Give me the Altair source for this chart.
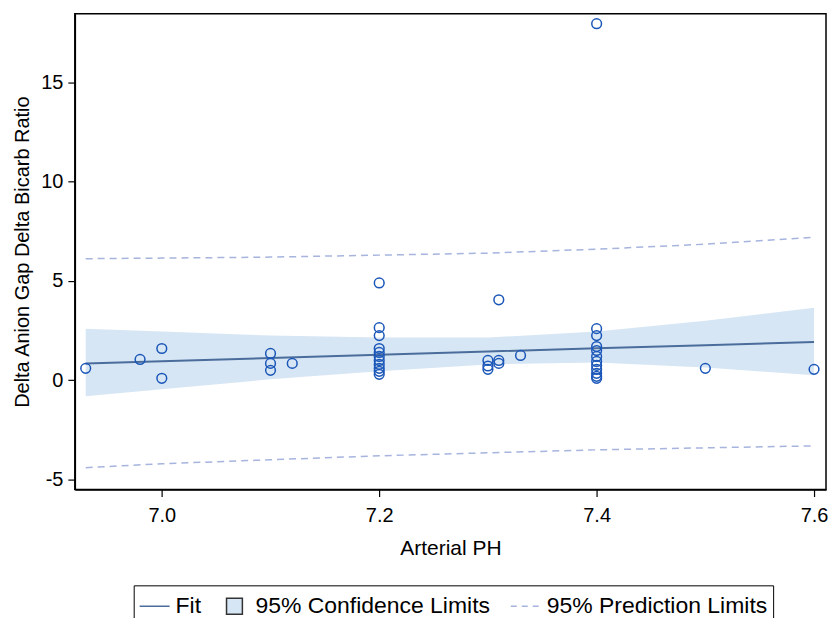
import altair as alt
import pandas as pd

ph = [6.93, 6.98, 7.0, 7.0, 7.1, 7.1, 7.1, 7.12,
      7.2, 7.2, 7.2, 7.2, 7.2, 7.2, 7.2, 7.2, 7.2, 7.2, 7.2,
      7.3, 7.3, 7.3, 7.31, 7.31, 7.31, 7.33,
      7.4, 7.4, 7.4, 7.4, 7.4, 7.4, 7.4, 7.4, 7.4, 7.4, 7.4, 7.4,
      7.5, 7.6]
ratio = [0.6, 1.05, 1.6, 0.1, 1.35, 0.85, 0.5, 0.85,
         4.9, 2.65, 2.25, 1.6, 1.4, 1.2, 1.0, 0.8, 0.6, 0.45, 0.3,
         1.0, 0.72, 0.55, 4.05, 1.0, 0.85, 1.25,
         17.95, 2.6, 2.25, 1.7, 1.5, 1.2, 0.95, 0.75, 0.55, 0.35, 0.2, 0.1,
         0.6, 0.55]

# Fit line and limits read at a few pH values
grid_ph = [6.93, 7.0, 7.1, 7.2, 7.3, 7.4, 7.5, 7.6]
fit = [0.85, 0.96, 1.12, 1.29, 1.45, 1.61, 1.77, 1.93]
cl_lower = [-0.8, -0.45, 0.05, 0.45, 0.8, 0.9, 0.65, 0.25]
cl_upper = [2.6, 2.45, 2.25, 2.15, 2.15, 2.45, 3.0, 3.65]
pl_lower = [-4.4, -4.2, -4.0, -3.8, -3.65, -3.5, -3.4, -3.3]
pl_upper = [6.12, 6.15, 6.2, 6.3, 6.4, 6.6, 6.85, 7.2]

legend_series = ["Fit", "95% Confidence Limits", "95% Prediction Limits"]

x_ticks = [7.0, 7.2, 7.4, 7.6]
y_ticks = [-5, 0, 5, 10, 15]

FONT = "Liberation Sans"
PT_COLOR = "#1a56b8"
FIT_COLOR = "#4a6d9c"
CL_FILL = "#d7e6f4"
PL_COLOR = "#a6b4de"

pts = pd.DataFrame({"ph": ph, "ratio": ratio})
band = pd.DataFrame({"ph": grid_ph, "fit": fit, "cl_lo": cl_lower, "cl_hi": cl_upper,
                     "pl_lo": pl_lower, "pl_hi": pl_upper})
leg = pd.DataFrame({"series": legend_series})

xscale = alt.Scale(domain=[6.92, 7.611], nice=False, zero=False)
yscale = alt.Scale(domain=[-5.5, 18.45], nice=False, zero=False)

x_axis = alt.Axis(values=x_ticks, format=".1f", title="Arterial PH", grid=False,
                  tickSize=7, labelPadding=9, titlePadding=12, titleFontSize=21)
y_axis = alt.Axis(values=y_ticks, title="Delta Anion Gap Delta Bicarb Ratio", grid=False,
                  tickSize=7, labelPadding=5, titlePadding=8, titleFontSize=20,
                  labelExpr="datum.value < 0 ? '-' + toString(-datum.value) : toString(datum.value)")

base = alt.Chart(band)

ci = base.mark_area(color=CL_FILL, opacity=1).encode(
    x=alt.X("ph:Q", scale=xscale, axis=x_axis),
    y=alt.Y("cl_lo:Q", scale=yscale, axis=y_axis),
    y2="cl_hi:Q",
)

fit_line = base.mark_line(color=FIT_COLOR, strokeWidth=2).encode(
    x="ph:Q", y="fit:Q"
)

pl_up = base.mark_line(color=PL_COLOR, strokeWidth=1.5, strokeDash=[7, 5]).encode(
    x="ph:Q", y="pl_hi:Q"
)
pl_lo = base.mark_line(color=PL_COLOR, strokeWidth=1.5, strokeDash=[7, 5]).encode(
    x="ph:Q", y="pl_lo:Q"
)

points = alt.Chart(pts).mark_point(shape="circle", filled=False, color=PT_COLOR,
                                   size=95, strokeWidth=1.5, opacity=1).encode(
    x="ph:Q", y="ratio:Q"
)

legend_def = alt.Legend(title=None, orient="none", direction="horizontal",
                        legendX=59, legendY=573,
                        strokeColor="black", padding=5,
                        labelFont=FONT, labelFontSize=23, labelColor="black",
                        labelLimit=600, labelOffset=5, columnPadding=17,
                        symbolOpacity=1, symbolSize=900)

small_square = "M-0.53,-0.53H0.53V0.53H-0.53Z"

legend_layer = alt.Chart(leg).mark_point(opacity=0, filled=False).encode(
    stroke=alt.Stroke("series:N", scale=alt.Scale(domain=legend_series,
                      range=[FIT_COLOR, "#333333", PL_COLOR]), legend=legend_def),
    shape=alt.Shape("series:N", scale=alt.Scale(domain=legend_series,
                    range=["stroke", small_square, "stroke"]), legend=legend_def),
    fill=alt.Fill("series:N", scale=alt.Scale(domain=legend_series,
                  range=["transparent", CL_FILL, "transparent"]), legend=legend_def),
    strokeDash=alt.StrokeDash("series:N", scale=alt.Scale(domain=legend_series,
                              range=[[1, 0], [1, 0], [6, 5]]), legend=legend_def),
)

chart = alt.layer(ci, pl_up, pl_lo, fit_line, points, legend_layer).properties(
    width=753, height=477,
    autosize=alt.AutoSizeParams(type="none"),
    padding={"left": 67, "top": 5, "right": 4, "bottom": 128},
).configure_view(
    stroke="black", strokeWidth=1.5
).configure_axis(
    labelFont=FONT, titleFont=FONT, labelFontSize=20,
    labelColor="black", titleColor="black", titleFontWeight="normal",
    domainColor="black", tickColor="black", domainWidth=1.5, tickWidth=1.2,
)

chart.save("out.html", embed_options={"renderer": "svg", "actions": False})
